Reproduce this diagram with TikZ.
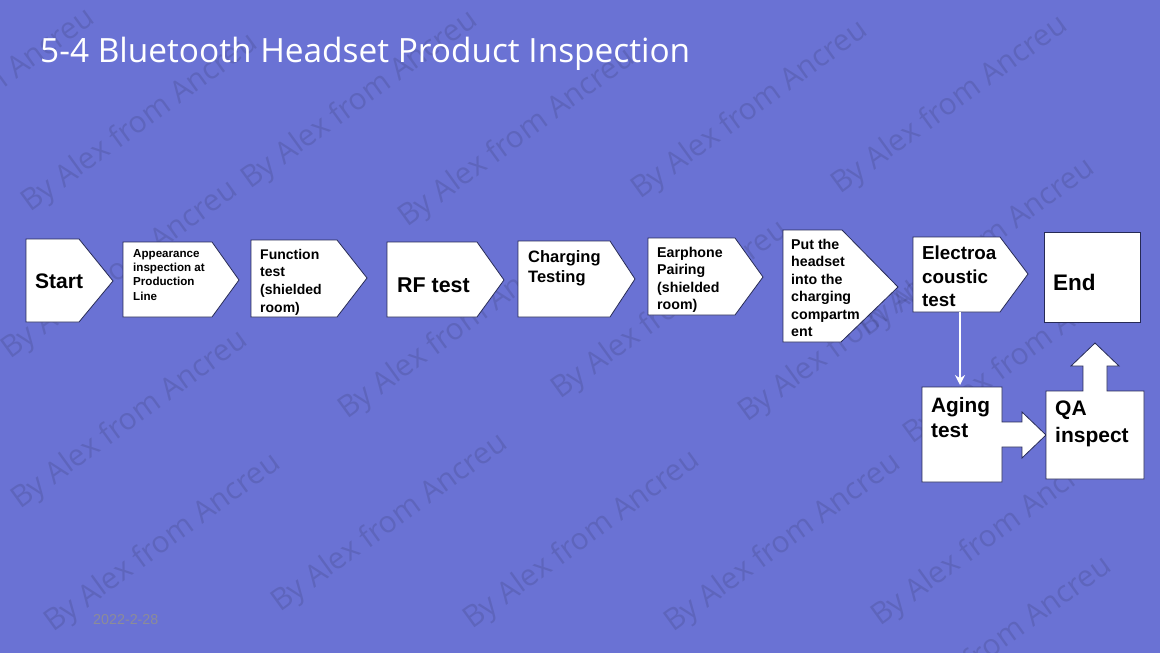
\documentclass[tikz,border=0pt]{standalone}
\usepackage{fontspec}
\setmainfont{Liberation Sans}
\newfontfamily\titlefont{Open Sans}
\usetikzlibrary{arrows.meta}

\definecolor{slidebg}{RGB}{106,114,212}
\definecolor{boxline}{RGB}{38,42,86}
\definecolor{dategray}{RGB}{140,140,152}

\tikzset{
  stepshape/.style={fill=white, draw=boxline, line width=0.8pt},
  steplabel/.style={anchor=north west, inner sep=0pt, align=left},
  flowline/.style={draw=white, line width=1.8pt, -{Stealth[length=10pt,width=10pt]}},
  wmark/.style={anchor=base west, inner sep=0pt, rotate=36, text=black,
    text opacity=0.11, font=\titlefont\fontsize{30}{30}\selectfont}
}

\begin{document}
\begin{tikzpicture}[x=1pt,y=-1pt]
  \useasboundingbox (0,0) rectangle (1160,653);
  \fill[slidebg] (0,0) rectangle (1160,653);

  % watermark
  \foreach \wx/\wy [count=\i] in {-133/188, 30/213, 250/190, 407/228, 640/200, 840/195, 867/338,
      10/360, 20/510, 347/420, 560/400, 747/423, 912/445, 53/633, 280/613, 472/630, 673/633,
      880/627, 884/736}
    \node[wmark] (wm\i) at (\wx,\wy) {By Alex from Ancreu};

  \node[anchor=base west,inner sep=0pt,text=white,font=\titlefont\fontsize{33.4}{34}\selectfont] (title) at (40,62) {5-4 Bluetooth Headset Product Inspection};

  % main chain of steps
  \draw[stepshape] (26,239) -- (79,239) -- (113,281) -- (79,322) -- (26,322) -- cycle;
  \node[steplabel,anchor=west,font=\fontsize{21}{25}\selectfont\bfseries] (start) at (35,281) {Start};
  \draw[stepshape] (123,242) -- (212,242) -- (239,280) -- (212,317) -- (123,317) -- cycle;
  \node[steplabel,font=\fontsize{11.6}{14.4}\selectfont\bfseries] (appear) at (133,249) {Appearance\\inspection at\\Production\\Line};
  \draw[stepshape] (251,240) -- (337,240) -- (367,278) -- (337,317) -- (251,317) -- cycle;
  \node[steplabel,font=\fontsize{14}{17.6}\selectfont\bfseries] (func) at (260,249) {Function\\test\\(shielded\\room)};
  \draw[stepshape] (387,242) -- (477,242) -- (504,280) -- (477,317) -- (387,317) -- cycle;
  \node[steplabel,anchor=west,font=\fontsize{21.4}{25}\selectfont\bfseries] (rf) at (397,285) {RF test};
  \draw[stepshape] (518,241) -- (610,241) -- (635,279) -- (610,317) -- (518,317) -- cycle;
  \node[steplabel,font=\fontsize{16.5}{20.7}\selectfont\bfseries] (charge) at (528,250) {Charging\\Testing};
  \draw[stepshape] (648,238) -- (735,238) -- (763,277) -- (735,315) -- (648,315) -- cycle;
  \node[steplabel,font=\fontsize{14.2}{17.5}\selectfont\bfseries] (pair) at (657,247) {Earphone\\Pairing\\(shielded\\room)};
  \draw[stepshape] (783,230) -- (842,230) -- (898,287) -- (841,342) -- (783,342) -- cycle;
  \node[steplabel,font=\fontsize{14.2}{17.5}\selectfont\bfseries] (putin) at (791,239) {Put the\\headset\\into the\\charging\\compartm\\ent};
  \draw[stepshape] (913,237) -- (1000,237) -- (1028,274) -- (1000,312) -- (913,312) -- cycle;
  \node[steplabel,font=\fontsize{18.8}{23.3}\selectfont\bfseries] (acoustic) at (922,246) {Electroa\\coustic\\test};
  \draw[stepshape] (1044,232) rectangle (1140,322);
  \node[steplabel,anchor=west,font=\fontsize{22.5}{26}\selectfont\bfseries] (finish) at (1053,282) {End};

  % aging branch
  \draw[stepshape] (922,387) -- (1002,387) -- (1002,422) -- (1022,422) -- (1022,412) -- (1046,435)
    -- (1022,458) -- (1022,447) -- (1002,447) -- (1002,482) -- (922,482) -- cycle;
  \node[steplabel,font=\fontsize{20.8}{25}\selectfont\bfseries] (aging) at (931,397) {Aging\\test};
  \draw[stepshape] (1046,391) -- (1083,391) -- (1083,366) -- (1071,366) -- (1095,343) -- (1119,366)
    -- (1107,366) -- (1107,391) -- (1144,391) -- (1144,479) -- (1046,479) -- cycle;
  \node[steplabel,font=\fontsize{21}{26.5}\selectfont\bfseries] (qa) at (1055,401) {QA\\inspect};

  \coordinate (acousticfoot) at (960,312);
  \coordinate (agingtop) at (960,385);
  \draw[flowline] (acousticfoot) -- (agingtop);

  \node[anchor=west,inner sep=0pt,text=dategray,font=\fontsize{14.3}{16}\selectfont] (date) at (93,620) {2022-2-28};
\end{tikzpicture}
\end{document}
